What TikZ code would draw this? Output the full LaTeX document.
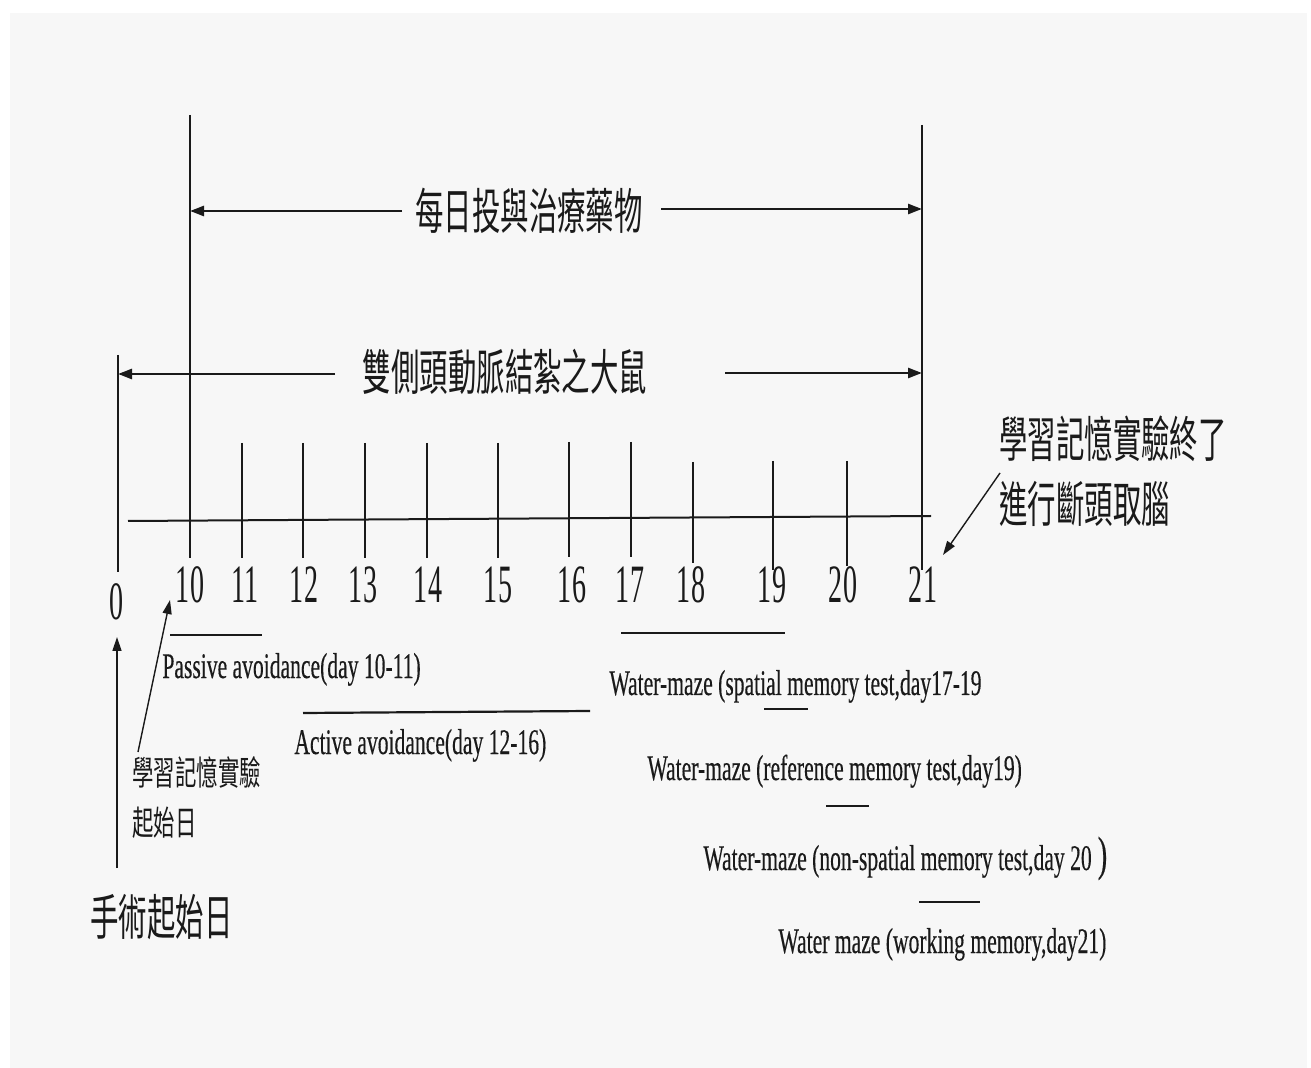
\documentclass[tikz,border=0pt]{standalone}
\usepackage{fontspec}
\setmainfont{Liberation Serif}
\newfontfamily\labfont[FakeStretch=0.6,FakeBold=0.3]{Liberation Serif}
\newfontfamily\numfont[FakeStretch=0.52]{Liberation Serif}
\newfontfamily\cjkfont[FakeStretch=0.58]{Noto Sans CJK TC}
\newfontfamily\cjksmallfont[FakeStretch=0.63]{Noto Sans CJK TC}
\usetikzlibrary{arrows.meta}
\definecolor{bgpanel}{HTML}{F7F7F7}
\definecolor{ink}{HTML}{1A1A1A}
\begin{document}
\begin{tikzpicture}[x=0.5pt,y=-0.5pt,
  vline/.style={draw=ink, line width=0.7pt},
  axisline/.style={draw=ink, line width=1pt},
  spanarrow/.style={draw=ink, line width=1.3pt, -{Triangle[length=7pt,width=5pt]}},
  barline/.style={draw=ink, line width=1.1pt},
  pointer/.style={draw=ink, line width=0.7pt, -{Triangle[length=7pt,width=4.5pt]}},
  numlab/.style={text=ink, font=\numfont\fontsize{27}{27}\selectfont, inner sep=0pt},
  enlab/.style={text=ink, font=\labfont\fontsize{18}{18}\selectfont, inner sep=0pt, anchor=base west},
  cjkbig/.style={text=ink, font=\cjkfont\fontsize{24.5}{24.5}\selectfont, inner sep=0pt},
  cjksmall/.style={text=ink, font=\cjksmallfont\fontsize{17}{17}\selectfont, inner sep=0pt},
]
\useasboundingbox (0,0) rectangle (1311,1068);
\fill[white] (0,0) rectangle (1311,1068);
\fill[bgpanel] (10,13) rectangle (1307,1068);

% main vertical lines
\coordinate (d0top) at (118,355);   \coordinate (d0bot) at (118,572);
\coordinate (d10top) at (190,115);  \coordinate (d10bot) at (190,558);
\coordinate (d21top) at (922,125);  \coordinate (d21bot) at (922,570);
\draw[vline] (d0top) -- (d0bot);
\draw[vline] (d10top) -- (d10bot);
\draw[vline] (d21top) -- (d21bot);

% ticks
\foreach \n/\x/\t/\b in {11/242/443/558, 12/303/443/558, 13/365/443/558, 14/427/443/558,
                         15/498/443/558, 16/569/442/557, 17/631/442/557,
                         18/693/462/563, 19/773/461/570, 20/847/461/566}{
  \coordinate (t\n top) at (\x,\t);
  \coordinate (t\n bot) at (\x,\b);
  \draw[vline] (t\n top) -- (t\n bot);
}

% axis
\coordinate (axL) at (128,521);
\coordinate (axR) at (931,516);
\draw[axisline] (axL) -- (axR);

% day numbers
\node[numlab] (n0) at (117,602) {0};
\foreach \n/\x in {10/190, 11/245, 12/304, 13/363, 14/428, 15/498, 16/572,
                   17/630, 18/691, 19/772, 20/843, 21/923}{
  \node[numlab] (n\n) at (\x,585) {\n};
}

% top spans
\node[cjkbig] (drug) at (529,211) {每日投與治療藥物};
\coordinate (drugL) at (402,211);  \coordinate (drugLtip) at (190,211);
\coordinate (drugR) at (661,209);  \coordinate (drugRtip) at (922,209);
\draw[spanarrow] (drugL) -- (drugLtip);
\draw[spanarrow] (drugR) -- (drugRtip);

\node[cjkbig] (rats) at (505,372) {雙側頭動脈結紮之大鼠};
\coordinate (ratsL) at (335,374);  \coordinate (ratsLtip) at (118,374);
\coordinate (ratsR) at (725,373);  \coordinate (ratsRtip) at (922,373);
\draw[spanarrow] (ratsL) -- (ratsLtip);
\draw[spanarrow] (ratsR) -- (ratsRtip);

% end note
\node[cjkbig, anchor=west] (endA) at (999,439) {學習記憶實驗終了};
\node[cjkbig, anchor=west] (endB) at (999,504) {進行斷頭取腦};
\coordinate (endtail) at (1000,473);
\coordinate (endtip) at (943,555);
\draw[pointer] (endtail) -- (endtip);

% start notes
\node[cjksmall, anchor=west] (startA) at (132,772) {學習記憶實驗};
\node[cjksmall, anchor=west] (startB) at (132,823) {起始日};
\coordinate (starttail) at (138,752);
\coordinate (starttip) at (170,600);
\draw[pointer] (starttail) -- (starttip);

\node[cjkbig, anchor=west] (surg) at (90,917) {手術起始日};
\coordinate (surgtail) at (117,868);
\coordinate (surgtip) at (117,637);
\draw[pointer] (surgtail) -- (surgtip);

% test bars
\coordinate (b1a) at (170,635); \coordinate (b1b) at (262,635);
\coordinate (b2a) at (303,713); \coordinate (b2b) at (590,711);
\coordinate (b3a) at (621,633); \coordinate (b3b) at (785,633);
\coordinate (b4a) at (764,709); \coordinate (b4b) at (808,709);
\coordinate (b5a) at (826,806); \coordinate (b5b) at (869,806);
\coordinate (b6a) at (919,902); \coordinate (b6b) at (980,902);
\draw[barline] (b1a) -- (b1b);
\draw[barline] (b2a) -- (b2b);
\draw[barline] (b3a) -- (b3b);
\draw[barline] (b4a) -- (b4b);
\draw[barline] (b5a) -- (b5b);
\draw[barline] (b6a) -- (b6b);

% test labels
\node[enlab] (passive) at (162,678) {Passive avoidance(day 10-11)};
\node[enlab] (active) at (294,754) {Active avoidance(day 12-16)};
\node[enlab] (spatial) at (609,695) {Water-maze (spatial memory test,day17-19};
\node[enlab] (reference) at (647,780) {Water-maze (reference memory test,day19)};
\node[enlab] (nonspatial) at (703,870) {Water-maze (non-spatial memory test,day 20\hspace{3pt}{\fontsize{24}{24}\selectfont)}};
\node[enlab] (working) at (778,953) {Water maze (working memory,day21)};
\end{tikzpicture}
\end{document}
